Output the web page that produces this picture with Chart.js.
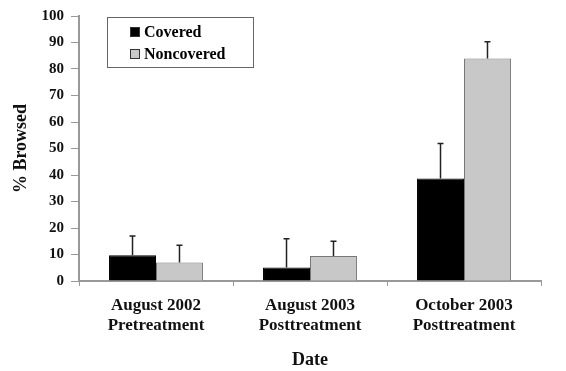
<!DOCTYPE html>
<html>
<head>
<meta charset="utf-8">
<script src="https://cdn.jsdelivr.net/npm/chart.js@4"></script>
<style>
  body { margin: 0; background: #fff; }
  #wrap { width: 566px; height: 371px; }
</style>
</head>
<body>
<div id="wrap"><canvas id="browseChart" width="566" height="371"></canvas></div>
<script>
// data
const dates = [['August 2002', 'Pretreatment'], ['August 2003', 'Posttreatment'], ['October 2003', 'Posttreatment']];
const covered = [9.7, 5.1, 38.7];
const coveredErr = [7.3, 10.8, 13.2];
const noncovered = [7.0, 9.4, 84.0];
const noncoveredErr = [6.5, 5.6, 6.3];

const serif = '"Liberation Serif", "DejaVu Serif", serif';

// upward-only error bars with a small cap
const errorBars = {
  id: 'errorBars',
  afterDatasetsDraw(chart) {
    const ctx = chart.ctx;
    const y = chart.scales.y;
    ctx.save();
    ctx.strokeStyle = '#222';
    ctx.lineWidth = 1.5;
    chart.data.datasets.forEach((ds, i) => {
      const meta = chart.getDatasetMeta(i);
      meta.data.forEach((bar, j) => {
        const top = y.getPixelForValue(ds.data[j] + ds.errors[j]);
        ctx.beginPath();
        ctx.moveTo(bar.x, bar.y);
        ctx.lineTo(bar.x, top);
        ctx.moveTo(bar.x - 3, top);
        ctx.lineTo(bar.x + 3, top);
        ctx.stroke();
      });
    });
    ctx.restore();
  }
};

// boxed legend inside the plot, top-left
const boxLegend = {
  id: 'boxLegend',
  afterDraw(chart) {
    const ctx = chart.ctx;
    const a = chart.chartArea;
    const x0 = a.left + 28, y0 = a.top + 1;
    ctx.save();
    ctx.strokeStyle = '#666';
    ctx.lineWidth = 1;
    ctx.strokeRect(x0 + 0.5, y0 + 0.5, 146, 50);
    ctx.font = 'bold 16px ' + serif;
    ctx.textBaseline = 'middle';
    chart.data.datasets.forEach((ds, i) => {
      const cy = y0 + 15 + i * 22;
      ctx.fillStyle = ds.backgroundColor;
      ctx.fillRect(x0 + 23, cy - 5, 10, 10);
      ctx.strokeStyle = '#333';
      ctx.strokeRect(x0 + 23.5, cy - 4.5, 9, 9);
      ctx.fillStyle = '#000';
      ctx.fillText(ds.label, x0 + 37, cy + 1);
    });
    ctx.restore();
  }
};

new Chart(document.getElementById('browseChart'), {
  type: 'bar',
  data: {
    labels: dates,
    datasets: [
      { label: 'Covered', data: covered, errors: coveredErr,
        backgroundColor: '#000000', borderColor: '#000000', borderWidth: 1 },
      { label: 'Noncovered', data: noncovered, errors: noncoveredErr,
        backgroundColor: '#c8c8c8', borderColor: '#777777', borderWidth: 1 }
    ]
  },
  options: {
    responsive: false,
    animation: false,
    layout: { padding: { top: 15, right: 25, left: 0, bottom: 0 } },
    categoryPercentage: 0.61,
    barPercentage: 1,
    plugins: {
      legend: { display: false },
      tooltip: { enabled: false }
    },
    scales: {
      x: {
        afterFit: s => { s.height = 90; },
        grid: { drawOnChartArea: false, offset: true, tickLength: 5, color: '#999' },
        border: { color: '#999', width: 2 },
        ticks: { color: '#111', font: { family: serif, size: 17, weight: 'bold' }, padding: 9 },
        title: { display: true, text: 'Date', color: '#111', font: { family: serif, size: 18, weight: 'bold' }, padding: { top: 0, bottom: 0 } }
      },
      y: {
        min: 0, max: 100,
        afterFit: s => { s.width = 79; },
        grid: { drawOnChartArea: false, tickLength: 8, color: '#999' },
        border: { color: '#999', width: 2 },
        ticks: { stepSize: 10, color: '#111', font: { family: serif, size: 15, weight: 'bold' }, padding: 7 },
        title: { display: true, text: '% Browsed', color: '#111', font: { family: serif, size: 18, weight: 'bold' }, padding: { top: 11, bottom: 0 } }
      }
    }
  },
  plugins: [errorBars, boxLegend]
});
</script>
</body>
</html>
